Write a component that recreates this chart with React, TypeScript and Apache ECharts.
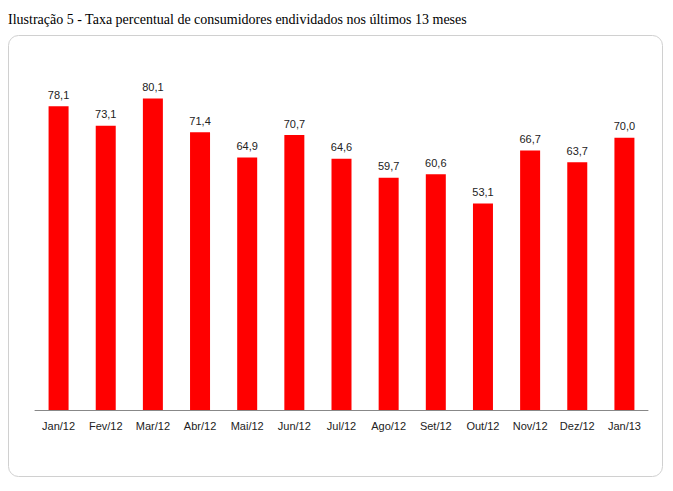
import React, { useEffect, useRef } from 'react';
import * as echarts from 'echarts';

const months = ['Jan/12', 'Fev/12', 'Mar/12', 'Abr/12', 'Mai/12', 'Jun/12', 'Jul/12', 'Ago/12', 'Set/12', 'Out/12', 'Nov/12', 'Dez/12', 'Jan/13'];
const taxa = [78.1, 73.1, 80.1, 71.4, 64.9, 70.7, 64.6, 59.7, 60.6, 53.1, 66.7, 63.7, 70.0];

const App: React.FC = () => {
    const chartRef = useRef<HTMLDivElement>(null);

    useEffect(() => {
        const chartDom = chartRef.current!;
        const myChart = echarts.init(chartDom, undefined, { renderer: 'svg' });

        const option: echarts.EChartsOption = {
            animation: false,
            title: {
                text: 'Ilustração 5 - Taxa percentual de consumidores endividados nos últimos 13 meses',
                left: 3,
                top: 7,
                textStyle: { fontFamily: 'Liberation Serif', fontSize: 14, fontWeight: 'normal', color: '#000' },
            },
            graphic: [{
                type: 'rect',
                shape: { x: 8.5, y: 35.5, width: 654, height: 441, r: 10 },
                style: { fill: 'none', stroke: '#d0d0d0', lineWidth: 1 },
                z: -1,
            }],
            grid: { left: 35, right: 25, top: 60, bottom: 81 },
            xAxis: {
                type: 'category',
                data: months,
                axisLine: { lineStyle: { color: '#888' } },
                axisTick: { lineStyle: { color: '#888' }, length: 5 },
                axisLabel: { color: '#222', fontFamily: 'Liberation Sans', fontSize: 11, margin: 10 },
            },
            yAxis: { type: 'value', min: 0, max: 90, show: false, splitLine: { show: false } },
            series: [{
                type: 'bar',
                data: taxa,
                barWidth: 20,
                itemStyle: { color: '#ff0000' },
                label: {
                    show: true,
                    position: 'top',
                    distance: 6,
                    color: '#222',
                    fontFamily: 'Liberation Sans',
                    fontSize: 11,
                    formatter: (p: any) => p.value.toFixed(1).replace('.', ','),
                },
            }],
        };

        myChart.setOption(option);
        return () => { myChart.dispose(); };
    }, []);

    return <div ref={chartRef} style={{ position: 'absolute', left: 0, top: 0, width: 673, height: 491, background: '#fff' }} />;
};

export default App;
